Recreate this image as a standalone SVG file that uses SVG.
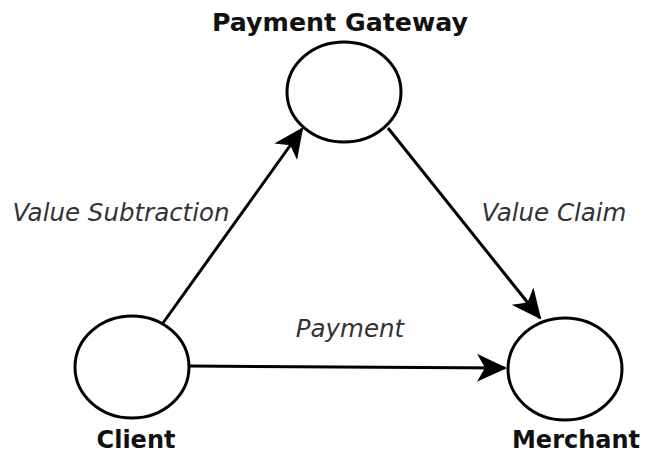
<svg xmlns="http://www.w3.org/2000/svg" width="646" height="455" viewBox="0 0 646 455">
<style>
.node{fill:#fff;stroke:#000;stroke-width:3}
.edge{fill:none;stroke:#000;stroke-width:3}
.title{font-family:"DejaVu Sans",Verdana,sans-serif;font-weight:bold;font-size:24px;fill:#111;text-anchor:middle}
.lbl{font-family:"DejaVu Sans",Verdana,sans-serif;font-style:italic;font-size:24.5px;fill:#333;text-anchor:middle}
</style>
<defs>
<marker id="arr" markerUnits="userSpaceOnUse" viewBox="0 0 30 28" refX="28" refY="14" markerWidth="30" markerHeight="28" orient="auto">
<path d="M0,0 L30,14 L0,28 L8,14 Z" fill="#000"/>
</marker>
</defs>
<rect width="646" height="455" fill="#fff"/>
<g id="connectors">
<line class="edge" x1="163" y1="323" x2="302" y2="129" marker-end="url(#arr)"/>
<line class="edge" x1="388" y1="128" x2="540" y2="318" marker-end="url(#arr)"/>
<line class="edge" x1="190" y1="366" x2="505" y2="368" marker-end="url(#arr)"/>
<text class="lbl" x="121" y="221">Value Subtraction</text>
<text class="lbl" x="554" y="221">Value Claim</text>
<text class="lbl" x="350" y="337">Payment</text>
</g>
<g id="gateway">
<ellipse class="node" cx="344" cy="92" rx="57" ry="50"/>
<text class="title" x="340" y="31" textLength="256" lengthAdjust="spacingAndGlyphs">Payment Gateway</text>
</g>
<g id="client">
<ellipse class="node" cx="132" cy="367" rx="57" ry="51"/>
<text class="title" x="136" y="448">Client</text>
</g>
<g id="merchant">
<ellipse class="node" cx="565" cy="369" rx="57" ry="51"/>
<text class="title" x="576" y="448">Merchant</text>
</g>
</svg>
